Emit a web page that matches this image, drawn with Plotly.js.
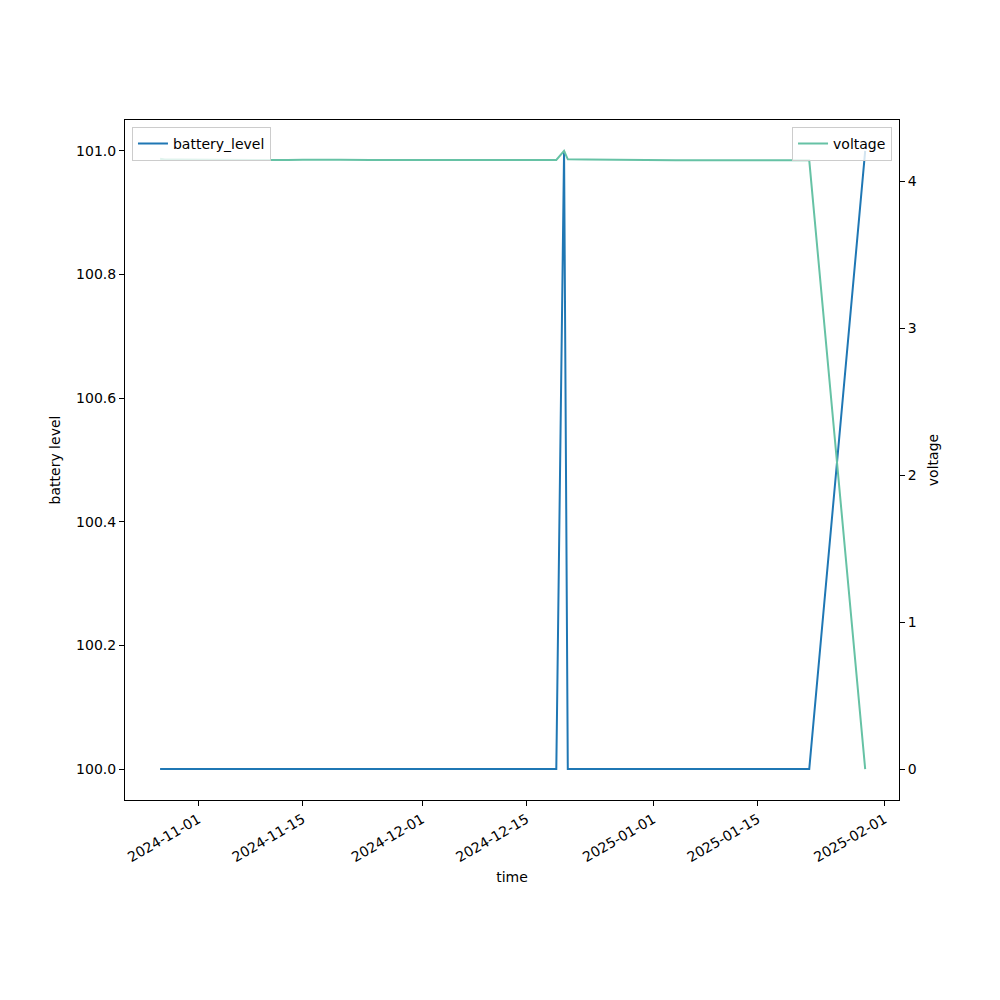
<!DOCTYPE html>
<html>
<head>
<meta charset="utf-8">
<script src="https://cdn.plot.ly/plotly-3.0.1.min.js"></script>
<style>html,body{margin:0;padding:0;background:#fff;}#chart{width:1000px;height:1000px;}</style>
</head>
<body>
<div id="chart"></div>
<script>
const times = [
  "2024-10-26 21:00", "2024-10-27 12:00", "2024-10-29 08:00", "2024-11-01 00:00",
  "2024-11-03 00:00", "2024-11-05 00:00", "2024-11-07 00:00", "2024-11-09 00:00",
  "2024-11-11 00:00", "2024-11-13 00:00", "2024-11-15 00:00", "2024-11-17 00:00",
  "2024-11-20 00:00", "2024-11-24 00:00", "2024-11-28 00:00", "2024-11-30 00:00",
  "2024-12-01 12:00", "2024-12-04 00:00", "2024-12-07 00:00", "2024-12-10 00:00",
  "2024-12-13 00:00", "2024-12-16 00:00", "2024-12-19 00:00", "2024-12-20 01:00",
  "2024-12-20 13:00", "2024-12-23 00:00", "2024-12-26 00:00", "2024-12-29 00:00",
  "2025-01-01 00:00", "2025-01-04 00:00", "2025-01-07 00:00", "2025-01-10 00:00",
  "2025-01-13 00:00", "2025-01-16 00:00", "2025-01-19 00:00", "2025-01-21 22:00",
  "2025-01-29 10:00"
];
const batteryLevel = [
  100, 100, 100, 100, 100, 100, 100, 100, 100, 100, 100, 100,
  100, 100, 100, 100, 100, 100, 100, 100, 100, 100, 100, 101,
  100, 100, 100, 100, 100, 100, 100, 100, 100, 100, 100, 100,
  101
];
const voltage = [
  4.152, 4.146, 4.146, 4.145, 4.143, 4.144, 4.142, 4.144, 4.141, 4.143, 4.145, 4.146,
  4.145, 4.143, 4.142, 4.141, 4.145, 4.144, 4.144, 4.143, 4.143, 4.143, 4.143, 4.205,
  4.148, 4.146, 4.144, 4.143, 4.141, 4.142, 4.142, 4.142, 4.141, 4.142, 4.142, 4.141,
  0.0
];
const xTickVals = ["2024-11-01", "2024-11-15", "2024-12-01", "2024-12-15", "2025-01-01", "2025-01-15", "2025-02-01"];
const xTickText = ["2024-11-01", "2024-11-15", "2024-12-01", "2024-12-15", "2025-01-01", "2025-01-15", "2025-02-01"];
const leftTicks = [100.0, 100.2, 100.4, 100.6, 100.8, 101.0];
const leftTickText = ["100.0", "100.2", "100.4", "100.6", "100.8", "101.0"];
const rightTicks = [0, 1, 2, 3, 4];

const font = {family: "DejaVu Sans, sans-serif", size: 14, color: "#000"};

const traces = [
  {x: times, y: batteryLevel, type: "scatter", mode: "lines", name: "battery_level",
   line: {color: "#1f77b4", width: 2}, yaxis: "y", legend: "legend"},
  {x: times, y: voltage, type: "scatter", mode: "lines", name: "voltage",
   line: {color: "#66c2a5", width: 2}, yaxis: "y2", legend: "legend2"}
];

const layout = {
  width: 1000, height: 1000,
  margin: {l: 125, r: 101, t: 120, b: 200},
  paper_bgcolor: "#fff", plot_bgcolor: "#fff",
  font: font,
  showlegend: true,
  xaxis: {
    type: "date",
    range: ["2024-10-22 04:05", "2025-02-02 22:48"],
    tickvals: xTickVals, ticktext: xTickText, tickangle: -30,
    showgrid: false, zeroline: false,
    showline: true, linecolor: "#000", linewidth: 1, mirror: true,
    ticks: "outside", ticklen: 5, tickcolor: "#000",
    title: {text: "time", font: font, standoff: 8}
  },
  yaxis: {
    range: [99.95, 101.05],
    tickvals: leftTicks, ticktext: leftTickText,
    showgrid: false, zeroline: false,
    showline: true, linecolor: "#000", linewidth: 1,
    ticks: "outside", ticklen: 5, tickcolor: "#000",
    title: {text: "battery level", font: font, standoff: 12}
  },
  yaxis2: {
    overlaying: "y", side: "right",
    range: [-0.21025, 4.41525],
    tickvals: rightTicks,
    showgrid: false, zeroline: false,
    showline: true, linecolor: "#000", linewidth: 1,
    ticks: "outside", ticklen: 5, tickcolor: "#000",
    title: {text: "voltage", font: font, standoff: 12}
  },
  legend: {
    x: 0.009, y: 0.99, xanchor: "left", yanchor: "top",
    bgcolor: "rgba(255,255,255,0.8)", bordercolor: "#cccccc", borderwidth: 1,
    font: font
  },
  legend2: {
    x: 0.991, y: 0.99, xanchor: "right", yanchor: "top",
    bgcolor: "rgba(255,255,255,0.8)", bordercolor: "#cccccc", borderwidth: 1,
    font: font
  }
};

Plotly.newPlot("chart", traces, layout, {displayModeBar: false, staticPlot: true});
</script>
</body>
</html>
